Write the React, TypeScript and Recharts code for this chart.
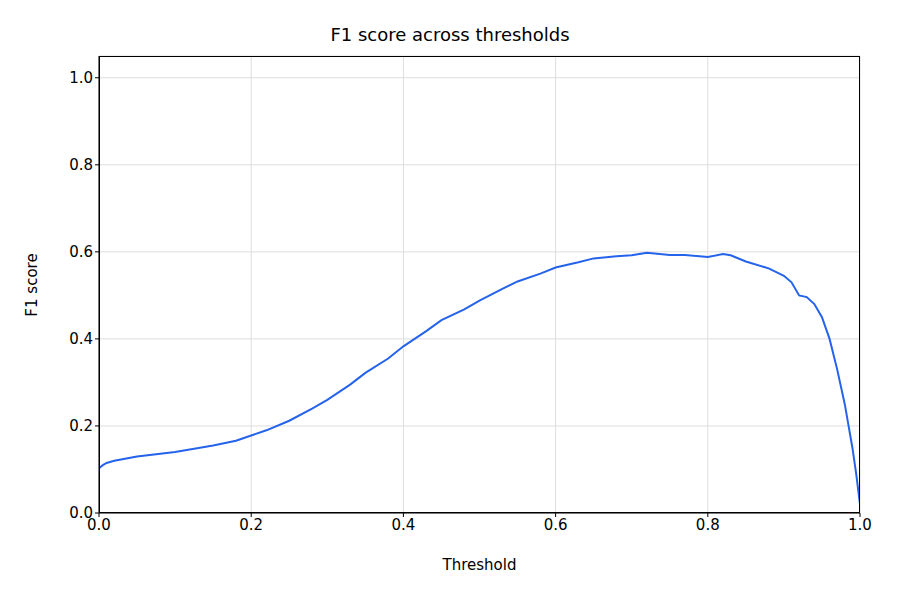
import { LineChart, Line, XAxis, YAxis, CartesianGrid } from "recharts";

const thresholds = [0, 0.005, 0.01, 0.02, 0.05, 0.1, 0.15, 0.18, 0.2, 0.22, 0.25, 0.28, 0.3, 0.33, 0.35, 0.38, 0.4, 0.43, 0.45, 0.48, 0.5, 0.53, 0.55, 0.58, 0.6, 0.63, 0.65, 0.68, 0.7, 0.72, 0.75, 0.77, 0.8, 0.82, 0.83, 0.85, 0.88, 0.9, 0.91, 0.92, 0.93, 0.94, 0.95, 0.96, 0.97, 0.98, 0.985, 0.99, 0.995, 1.0];
const f1Scores = [0.103, 0.11, 0.115, 0.12, 0.13, 0.14, 0.155, 0.166, 0.178, 0.19, 0.212, 0.24, 0.26, 0.295, 0.322, 0.355, 0.383, 0.418, 0.443, 0.468, 0.488, 0.515, 0.532, 0.55, 0.564, 0.576, 0.585, 0.59, 0.592, 0.598, 0.593, 0.593, 0.588, 0.595, 0.592, 0.578, 0.562, 0.545, 0.53, 0.5, 0.496, 0.48, 0.45, 0.4, 0.33, 0.25, 0.2, 0.15, 0.09, 0.02];
const xTicks = [0, 0.2, 0.4, 0.6, 0.8, 1.0];
const yTicks = [0, 0.2, 0.4, 0.6, 0.8, 1.0];

const data = thresholds.map((t, i) => ({ t, f1: f1Scores[i] }));
const font = "DejaVu Sans, sans-serif";
const tick = { fontSize: 15, fill: "#000", fontFamily: font };

export default function App() {
  return (
    <div style={{ position: "relative", margin: -8, width: 900, height: 600, background: "#fff", fontFamily: font }}>
      <div style={{ position: "absolute", top: 22, left: 0, width: 900, textAlign: "center", fontSize: 18, lineHeight: "26px" }}>
        F1 score across thresholds
      </div>
      <div style={{ position: "absolute", top: 554, left: 99, width: 761, textAlign: "center", fontSize: 15, lineHeight: "22px" }}>
        Threshold
      </div>
      <div style={{ position: "absolute", top: 285, left: 32, fontSize: 15, transform: "translate(-50%, -50%) rotate(-90deg)", whiteSpace: "nowrap" }}>
        F1 score
      </div>
      <LineChart width={900} height={600} data={data} margin={{ top: 56, right: 40, bottom: 57, left: 49 }}>
        <CartesianGrid stroke="#ddd" />
        <XAxis dataKey="t" type="number" domain={[0, 1]} ticks={xTicks} tickFormatter={(v) => v.toFixed(1)}
          stroke="#000" tick={tick} tickSize={4} height={30} interval={0} allowDataOverflow />
        <YAxis type="number" domain={[0, 1.05]} ticks={yTicks} tickFormatter={(v) => v.toFixed(1)}
          stroke="#000" tick={tick} tickSize={4} width={50} interval={0} allowDataOverflow />
        <Line dataKey="f1" stroke="#2563eb" strokeWidth={2} dot={false} isAnimationActive={false} type="linear" />
      </LineChart>
      <div style={{ position: "absolute", left: 99, top: 56, width: 761, height: 457, boxSizing: "border-box", border: "1px solid #000", pointerEvents: "none" }} />
    </div>
  );
}
